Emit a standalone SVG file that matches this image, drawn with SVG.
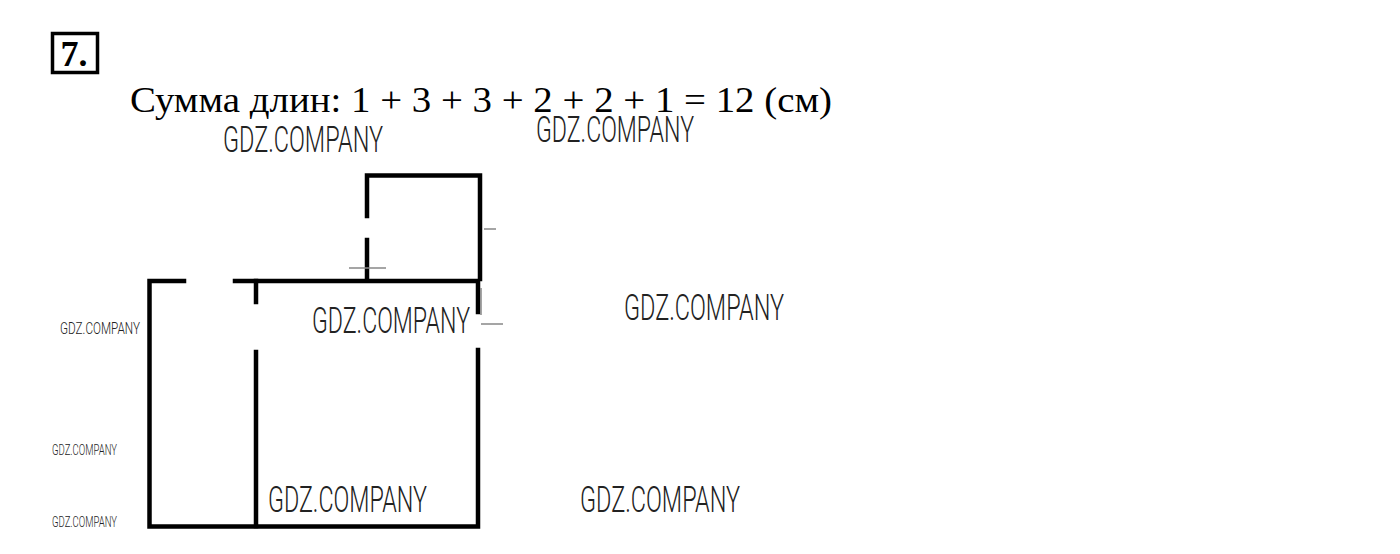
<svg xmlns="http://www.w3.org/2000/svg" width="1400" height="554" viewBox="0 0 1400 554">
<style>
.wm{font-family:Roboto,"Liberation Sans",sans-serif;font-weight:300;fill:#222;}
.ln{stroke:#000;stroke-width:4.5;fill:none;stroke-linecap:square;}
.gr{stroke:#888;stroke-width:1.5;fill:none;}
.t{font-family:"Liberation Serif",serif;fill:#000;}
</style>
<rect width="1400" height="554" fill="#fff"/>
<g id="number">
<rect x="52.5" y="33.5" width="45" height="39" fill="none" stroke="#000" stroke-width="3.5"/>
<text class="t" x="74" y="66" font-size="36" font-weight="bold" text-anchor="middle">7.</text>
</g>
<g id="title">
<text class="t" x="130" y="112" font-size="36" textLength="702" lengthAdjust="spacingAndGlyphs">Сумма длин: 1 + 3 + 3 + 2 + 2 + 1 = 12 (см)</text>
</g>
<g id="figure">
<path class="ln" d="M184,281 L149.5,281 L149.5,526.5 L478,526.5 L478,350"/>
<path class="ln" d="M478,312 L478,281 L235,281"/>
<path class="ln" d="M256,281 L256,302"/>
<path class="ln" d="M256,352 L256,526"/>
<path class="ln" d="M367,279 L367,240"/>
<path class="ln" d="M367,216 L367,175.5 L480,175.5 L480,279"/>
<path class="gr" d="M349,268 L386,268 M484,229 L496,229 M481,324 L503,324 M481,288 L481,315"/>
</g>
<g id="watermarks">
<text class="wm" x="223" y="152" font-size="37" textLength="160" lengthAdjust="spacingAndGlyphs">GDZ.COMPANY</text>
<text class="wm" x="536" y="142" font-size="36" textLength="158" lengthAdjust="spacingAndGlyphs">GDZ.COMPANY</text>
<text class="wm" x="312" y="333" font-size="37" textLength="158" lengthAdjust="spacingAndGlyphs">GDZ.COMPANY</text>
<text class="wm" x="624" y="320" font-size="37" textLength="160" lengthAdjust="spacingAndGlyphs">GDZ.COMPANY</text>
<text class="wm" x="268" y="512" font-size="37" textLength="159" lengthAdjust="spacingAndGlyphs">GDZ.COMPANY</text>
<text class="wm" x="580" y="512" font-size="37" textLength="160" lengthAdjust="spacingAndGlyphs">GDZ.COMPANY</text>
<text class="wm" x="60" y="334" font-size="17" textLength="80" lengthAdjust="spacingAndGlyphs">GDZ.COMPANY</text>
<text class="wm" x="52" y="455" font-size="15" textLength="65" lengthAdjust="spacingAndGlyphs">GDZ.COMPANY</text>
<text class="wm" x="52" y="527" font-size="15" textLength="65" lengthAdjust="spacingAndGlyphs">GDZ.COMPANY</text>
</g>
</svg>
